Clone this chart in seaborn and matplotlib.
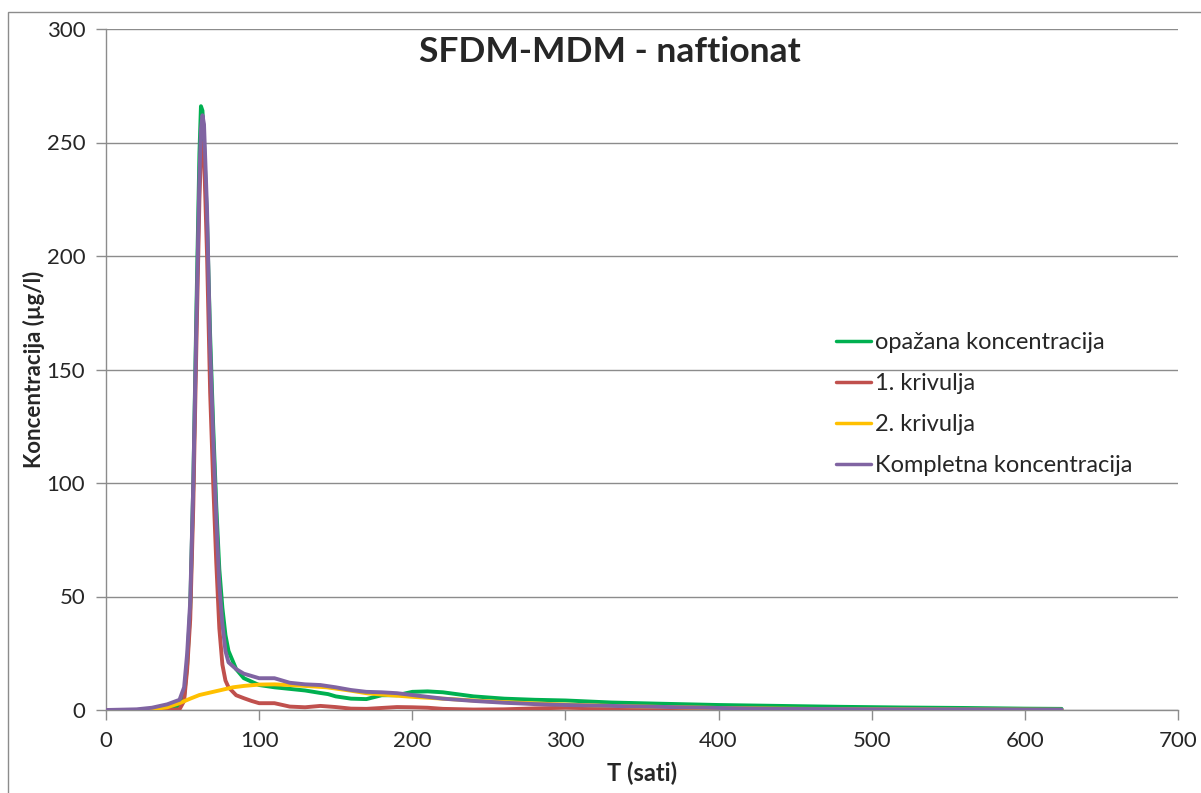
import pandas as pd
import matplotlib.pyplot as plt
import seaborn as sns
from matplotlib.patches import Rectangle

# Vrijednosti ocitane s grafa
t_opazana = [0, 20, 30, 40, 48, 51, 53, 55, 57, 59, 61, 62, 63, 64, 66, 68, 70, 72, 74, 76, 78, 80,
             85, 90, 95, 100, 110, 120, 130, 140, 145, 150, 160, 170, 180, 190, 200, 210, 220, 240,
             260, 280, 300, 330, 360, 400, 440, 480, 520, 560, 600, 624]
c_opazana = [0, 0, 0, 0.5, 2, 6, 20, 45, 100, 175, 245, 266, 264, 250, 215, 165, 125, 90, 62, 45, 33, 26,
             18, 14, 12.5, 11, 10, 9.3, 8.6, 7.5, 7, 6, 5, 4.8, 6.5, 6.5, 8, 8.2, 7.8, 6,
             5, 4.5, 4.2, 3.3, 2.8, 2.2, 1.8, 1.4, 1.1, 0.9, 0.6, 0.5]

t_krivulja1 = [0, 40, 48, 51, 53, 55, 57, 59, 61, 62, 63, 64, 66, 68, 70, 72, 74, 76, 78, 80, 85, 90,
               95, 100, 110, 120, 130, 140, 150, 160, 170, 180, 190, 200, 210, 220, 240, 260, 280, 300,
               330, 360, 400, 500, 624]
c_krivulja1 = [0, 0, 0.3, 4, 18, 40, 90, 160, 225, 245, 250, 245, 200, 140, 100, 65, 36, 20, 13, 10, 6.5, 5.2,
               4, 3, 3, 1.5, 1.2, 1.8, 1.3, 0.6, 0.5, 0.9, 1.3, 1.2, 1, 0.5, 0.2, 0.3, 0.7, 1,
               0.6, 0.2, 0, 0, 0]

t_krivulja2 = [0, 20, 30, 40, 48, 55, 61, 70, 83, 90, 100, 110, 120, 130, 144, 160, 170, 180, 192, 200,
               220, 240, 260, 280, 300, 330, 360, 400, 440, 480, 520, 560, 600, 624]
c_krivulja2 = [0, 0, 0.3, 1.2, 3, 5, 6.6, 8, 10, 10.6, 11.2, 11.3, 11, 10.6, 10, 8.5, 7.4, 6.8, 6.2, 5.8,
               5, 4.2, 3.5, 2.9, 2.4, 1.8, 1.4, 0.9, 0.6, 0.4, 0.3, 0.2, 0.15, 0.1]

t_kompletna = [0, 20, 30, 40, 48, 51, 53, 55, 57, 59, 61, 62, 63, 64, 66, 68, 70, 72, 74, 76, 78, 80,
               85, 90, 100, 110, 120, 130, 140, 150, 160, 170, 180, 190, 200, 220, 240, 260, 280, 300,
               330, 360, 400, 440, 480, 520, 560, 600, 624]
c_kompletna = [0, 0.3, 1, 2.5, 4.5, 10, 25, 48, 100, 170, 235, 256, 262, 258, 220, 160, 120, 85, 55, 38, 26, 21,
               18, 16, 14, 14, 12, 11.3, 11, 10, 8.8, 8, 7.8, 7.4, 6.6, 5, 4, 3.2, 2.6, 2.2,
               1.8, 1.4, 0.9, 0.5, 0.4, 0.3, 0.3, 0.2, 0.2]

nazivi = ['opažana koncentracija', '1. krivulja', '2. krivulja', 'Kompletna koncentracija']
boje = ['#00B050', '#C0504D', '#FFC000', '#8064A2']

df = pd.concat([
    pd.DataFrame({'T': t_opazana, 'C': c_opazana, 'serija': nazivi[0]}),
    pd.DataFrame({'T': t_krivulja1, 'C': c_krivulja1, 'serija': nazivi[1]}),
    pd.DataFrame({'T': t_krivulja2, 'C': c_krivulja2, 'serija': nazivi[2]}),
    pd.DataFrame({'T': t_kompletna, 'C': c_kompletna, 'serija': nazivi[3]}),
])

sns.set_style('white')
plt.rcParams['font.family'] = ['Lato', 'DejaVu Sans']

fig = plt.figure(figsize=(12.01, 7.93), dpi=100)
ax = fig.add_axes([106 / 1201, 1 - 710 / 793, 1072 / 1201, 681 / 793])

sns.lineplot(data=df, x='T', y='C', hue='serija', hue_order=nazivi, palette=boje,
             sort=False, estimator=None, linewidth=2.8, ax=ax, zorder=3)

ax.set_xlim(0, 700)
ax.set_ylim(0, 300)
ax.set_xticks(range(0, 701, 100))
ax.set_yticks(range(0, 301, 50))
ax.yaxis.grid(True, color='#8c8c8c', linewidth=1)
ax.xaxis.grid(False)
for s in ['top', 'right']:
    ax.spines[s].set_visible(False)
for s in ['left', 'bottom']:
    ax.spines[s].set_color('#8c8c8c')
    ax.spines[s].set_linewidth(1)
ax.tick_params(axis='both', direction='out', length=7, width=1, color='#8c8c8c',
               labelsize=16, pad=8, bottom=True, left=True)

ax.set_xlabel('T (sati)', fontsize=17, fontweight='bold', labelpad=8)
ax.set_ylabel('Koncentracija (µg/l)', fontsize=16, fontweight='bold', labelpad=1)
ax.text(0.47, 0.966, 'SFDM-MDM - naftionat', transform=ax.transAxes, ha='center', va='center',
        fontsize=25.5, fontweight='bold')

handles, labels = ax.get_legend_handles_labels()
leg = ax.legend(handles, labels, loc='upper left', bbox_to_anchor=(0.67, 0.572), frameon=False,
                fontsize=17, handlelength=1.5, handletextpad=0.15, labelspacing=0.85, borderpad=0)
for h in leg.legend_handles:
    h.set_linewidth(2.5)

fig.add_artist(Rectangle((8 / 1201, -0.05), 1.2, 1 - 12 / 793 + 0.05, transform=fig.transFigure,
                         fill=False, edgecolor='#8c8c8c', linewidth=1))

plt.savefig('out.png', dpi=100)
plt.close()
